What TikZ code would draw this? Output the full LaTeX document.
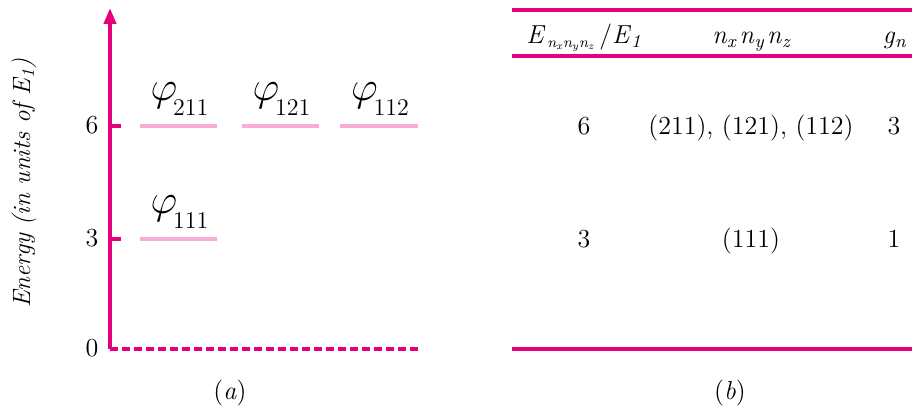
\documentclass[tikz,border=0pt]{standalone}
\usepackage{fontspec}
\usetikzlibrary{arrows.meta}
\definecolor{rose}{RGB}{230,0,126}
\definecolor{pinklevel}{RGB}{248,172,214}

\begin{document}
\begin{tikzpicture}[x=0.5pt, y=-0.5pt,
  txt/.style={font=\fontsize{13}{15}\selectfont, inner sep=0pt, anchor=base},
  axisline/.style={draw=rose, line width=2pt},
  levelline/.style={draw=pinklevel, line width=1.7pt},
  tablerule/.style={draw=rose, line width=2pt},
  statelbl/.style={inner sep=0pt, anchor=base}
]
  \useasboundingbox (0,0) rectangle (912,410);

  % (a) energy axis
  \coordinate (origin) at (110,349);
  \coordinate (axtop) at (110,8);
  \coordinate (axend) at (418,349);
  \draw[axisline, -{Triangle[length=8pt, width=6pt]}] (origin) -- (axtop);
  \draw[axisline, dash pattern=on 4pt off 2pt] (origin) -- (axend);
  \foreach \y/\v in {126/6, 239/3} {
    \draw[axisline] (110,\y) -- (121,\y);
  }
  \foreach \y/\v in {126/6, 239/3, 349/0} {
    \node[txt] (tick\v) at (92,\y+8) {\v};
  }
  \node[txt, anchor=center, rotate=90] (ylabel) at (24,183)
    {\fontsize{12.5}{15}\selectfont\itshape Energy (in units of E\textsubscript{1})};

  % energy levels and states
  \foreach \xa/\xb/\y/\n in {140/217/126/211, 242/319/126/121, 340/418/126/112, 140/217/239/111} {
    \draw[levelline] (\xa,\y) -- (\xb,\y);
    \node[statelbl] (phi\n) at ({(\xa+\xb)/2+1},\y-25)
      {{\fontsize{20}{21}\selectfont$\varphi$}\kern-2pt\raisebox{-7.5pt}{\fontsize{12}{14}\selectfont\n}};
  }
  \node[txt] (capa) at (230,400) {(\textit{a})};

  % (b) table
  \draw[tablerule] (512,10) -- (912,10);
  \draw[tablerule] (512,56) -- (912,56);
  \draw[tablerule] (512,349) -- (912,349);
  \node[txt] (hE) at (584,44)
    {\textit{E}\textsubscript{\kern1pt\fontsize{7.5}{9}\selectfont\textit{n\textsubscript{x}n\textsubscript{y}n\textsubscript{z}}}\kern2pt/\textit{E}\textsubscript{\textit{1}}};
  \node[txt] (hn) at (752,44)
    {\textit{n}\textsubscript{\textit{x}}\kern1pt\textit{n}\textsubscript{\textit{y}}\kern1pt\textit{n}\textsubscript{\textit{z}}};
  \node[txt] (hg) at (895,44) {\textit{g}\textsubscript{\textit{n}}};
  \node[txt] (e6) at (584,135) {6};
  \node[txt] (s6) at (751,135) {(211), (121), (112)};
  \node[txt] (g6) at (894,135) {3};
  \node[txt] (e3) at (584,248) {3};
  \node[txt] (s3) at (751,248) {(111)};
  \node[txt] (g3) at (894,248) {1};
  \node[txt] (capb) at (730,400) {(\textit{b})};
\end{tikzpicture}
\end{document}
